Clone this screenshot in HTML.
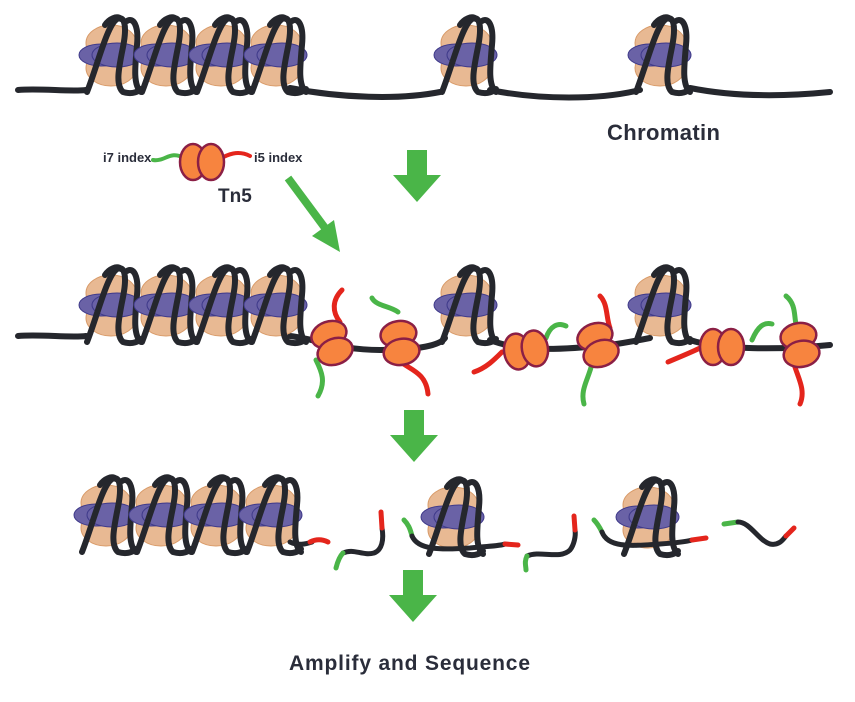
<!DOCTYPE html>
<html><head><meta charset="utf-8"><style>
html,body{margin:0;padding:0;background:#fff;}
svg{display:block;}
text{font-family:"Liberation Sans",sans-serif;fill:#2a2d3a;}
</style></head><body>
<svg width="855" height="702" viewBox="0 0 855 702">
<defs>
<g id="nuc">
  <ellipse cx="-2" cy="-12" rx="25" ry="18" fill="#e8b993" stroke="#d89a68" stroke-width="1"/>
  <ellipse cx="-2" cy="13" rx="25" ry="18" fill="#e8b993" stroke="#d89a68" stroke-width="1"/>
  <ellipse cx="-12" cy="0" rx="22" ry="11" fill="#6a62a6" stroke="#3f3a8a" stroke-width="1"/>
  <ellipse cx="4" cy="0" rx="25" ry="12" fill="#6a62a6" stroke="#3f3a8a" stroke-width="1"/>
  <path d="M-26,37 C-16,12 -6,-30 4,-36 C12,-40 14,-28 10,-8 C6,12 2,30 10,37 C20,40 26,36 28,34" fill="none" stroke="#25272d" stroke-width="6" stroke-linecap="round"/>
  <path d="M-8,-30 C-4,-36 4,-40 8,-36" fill="none" stroke="#25272d" stroke-width="6" stroke-linecap="round"/>
  <path d="M14,-34 C20,-38 26,-30 24,-10 C22,12 20,30 28,37" fill="none" stroke="#25272d" stroke-width="6" stroke-linecap="round"/>
</g>
<g id="tn5">
  <ellipse cx="0" cy="-9" rx="18" ry="13" fill="#f7843f" stroke="#8b1f45" stroke-width="2.5"/>
  <ellipse cx="0" cy="9" rx="18" ry="13" fill="#f7843f" stroke="#8b1f45" stroke-width="2.5"/>
</g>
<g id="tn5h">
  <ellipse cx="-9" cy="0" rx="13" ry="18" fill="#f7843f" stroke="#8b1f45" stroke-width="2.5"/>
  <ellipse cx="9" cy="0" rx="13" ry="18" fill="#f7843f" stroke="#8b1f45" stroke-width="2.5"/>
</g>
<polygon id="arrow" points="-10,0 10,0 10,25 24,25 0,52 -24,25 -10,25" fill="#4ab548"/>
</defs>

<g>
  <path d="M18,90 C40,88 70,92 86,90 M290,88 C340,98 400,100 440,92 M490,90 C540,100 600,100 640,90 M690,88 C740,98 790,96 830,92" fill="none" stroke="#25272d" stroke-width="6" stroke-linecap="round"/>
  <use href="#nuc" x="113" y="55"/><use href="#nuc" x="168" y="55"/><use href="#nuc" x="223" y="55"/><use href="#nuc" x="278" y="55"/>
  <use href="#nuc" x="468" y="55"/><use href="#nuc" x="662" y="55"/>
</g>
<text x="607" y="140" font-size="22" font-weight="bold" textLength="113">Chromatin</text>

<g>
  <text x="103" y="162" font-size="13" font-weight="bold">i7 index</text>
  <path d="M153,160 C165,162 170,150 184,158" fill="none" stroke="#4ab548" stroke-width="4" stroke-linecap="round"/>
  <path d="M218,160 C228,154 238,150 250,156" fill="none" stroke="#e4251c" stroke-width="4" stroke-linecap="round"/>
  <use href="#tn5h" x="202" y="162"/>
  <text x="254" y="162" font-size="13" font-weight="bold">i5 index</text>
  <text x="218" y="202" font-size="19" font-weight="bold">Tn5</text>
</g>
<path d="M288,178 L328,232" stroke="#4ab548" stroke-width="8"/>
<polygon points="340,252 312,236 334,220" fill="#4ab548"/>
<use href="#arrow" x="417" y="150"/>

<g>
  <path d="M18,336 C40,334 70,338 86,336 M290,336 C320,340 340,350 380,350 C420,350 440,345 445,338 M490,340 C520,352 560,350 610,345 C630,342 640,340 650,338 M690,340 C720,350 780,350 830,345" fill="none" stroke="#25272d" stroke-width="6" stroke-linecap="round"/>
  <use href="#nuc" x="113" y="305"/><use href="#nuc" x="168" y="305"/><use href="#nuc" x="223" y="305"/><use href="#nuc" x="278" y="305"/>
  <use href="#nuc" x="468" y="305"/><use href="#nuc" x="662" y="305"/>
  <g fill="none" stroke-width="5" stroke-linecap="round">
    <path d="M342,290 C332,300 332,312 340,322" stroke="#e4251c"/>
    <path d="M316,360 C322,372 326,382 318,396" stroke="#4ab548"/>
    <path d="M372,298 C376,306 390,306 398,312" stroke="#4ab548"/>
    <path d="M398,360 C410,370 426,372 428,394" stroke="#e4251c"/>
    <path d="M474,372 C486,368 494,360 502,352" stroke="#e4251c"/>
    <path d="M546,338 C550,326 558,322 566,326" stroke="#4ab548"/>
    <path d="M592,364 C588,380 580,390 584,404" stroke="#4ab548"/>
    <path d="M600,296 C608,304 606,318 610,328" stroke="#e4251c"/>
    <path d="M668,362 C682,356 692,352 700,348" stroke="#e4251c"/>
    <path d="M752,340 C758,326 764,322 772,324" stroke="#4ab548"/>
    <path d="M786,296 C796,304 794,316 796,324" stroke="#4ab548"/>
    <path d="M794,364 C798,378 806,390 800,404" stroke="#e4251c"/>
  </g>
  <use href="#tn5" transform="translate(332,343) rotate(-20)"/>
  <use href="#tn5" transform="translate(400,343) rotate(-10)"/>
  <use href="#tn5h" transform="translate(526,350) rotate(-10)"/>
  <use href="#tn5" transform="translate(598,345) rotate(-20)"/>
  <use href="#tn5h" transform="translate(722,347)"/>
  <use href="#tn5" transform="translate(800,345) rotate(-10)"/>
</g>
<use href="#arrow" x="414" y="410"/>

<g>
  <use href="#nuc" x="108" y="515"/><use href="#nuc" x="163" y="515"/><use href="#nuc" x="218" y="515"/><use href="#nuc" x="273" y="515"/>
  <use href="#nuc" x="455" y="517"/><use href="#nuc" x="650" y="517"/>
  <g fill="none" stroke-width="5" stroke-linecap="round">
    <path d="M290,542 C298,546 306,544 312,542" stroke="#25272d"/>
    <path d="M310,542 C318,538 324,540 328,542" stroke="#e4251c"/>
    <path d="M343,553 C354,548 362,556 374,553 C382,550 384,540 382,528" stroke="#25272d"/>
    <path d="M336,568 C338,560 340,556 343,553" stroke="#4ab548"/>
    <path d="M382,528 L381,512" stroke="#e4251c"/>
    <path d="M404,520 C408,524 410,528 412,536" stroke="#4ab548"/>
    <path d="M412,536 C418,550 440,550 470,548 C490,546 500,546 505,544" stroke="#25272d"/>
    <path d="M505,544 L518,545" stroke="#e4251c"/>
    <path d="M527,556 C540,550 560,560 570,550 C574,545 576,536 575,530" stroke="#25272d"/>
    <path d="M527,556 C524,562 526,566 526,570" stroke="#4ab548"/>
    <path d="M575,530 L574,516" stroke="#e4251c"/>
    <path d="M594,520 C598,524 600,528 602,532" stroke="#4ab548"/>
    <path d="M602,532 C608,548 630,546 660,544 C675,543 685,542 692,540" stroke="#25272d"/>
    <path d="M692,540 L706,538" stroke="#e4251c"/>
    <path d="M724,524 L738,522" stroke="#4ab548"/>
    <path d="M738,522 C750,522 758,540 770,544 C780,546 784,538 786,536" stroke="#25272d"/>
    <path d="M786,536 L794,528" stroke="#e4251c"/>
  </g>
</g>
<use href="#arrow" x="413" y="570"/>
<text x="289" y="670" font-size="21" font-weight="bold" textLength="241">Amplify and Sequence</text>
</svg>
</body></html>
